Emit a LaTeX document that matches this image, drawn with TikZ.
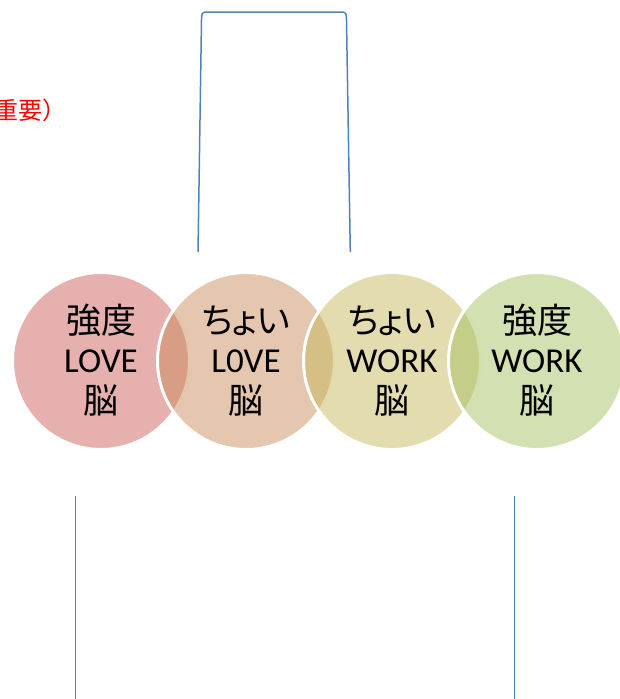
\documentclass[tikz,border=0pt]{standalone}
\usepackage{fontspec}
\setmainfont{Carlito}
\newfontfamily\jp[RawFeature=+palt]{Noto Sans CJK JP}
\newfontfamily\jpf{Noto Sans CJK JP}
\definecolor{cA}{RGB}{205,97,93}
\definecolor{cB}{RGB}{203,141,93}
\definecolor{cC}{RGB}{197,185,93}
\definecolor{cD}{RGB}{167,193,99}
\definecolor{lineblue}{RGB}{79,129,189}
\begin{document}
\begin{tikzpicture}[x=1pt,y=-1pt,
  bubble/.style={circle, minimum size=177pt, inner sep=0pt, draw=white, line width=3pt, fill opacity=0.5},
  lbl/.style={anchor=base, inner sep=0pt, text=black, font=\fontsize{35}{40}\selectfont},
  bline/.style={draw=lineblue, line width=1.5pt}]
\useasboundingbox (0,0) rectangle (619,699);
% circles
\node[bubble, fill=cA] (c1) at (101,361) {};
\node[bubble, fill=cB] (c2) at (246,361) {};
\node[bubble, fill=cC] (c3) at (392,361) {};
\node[bubble, fill=cD] (c4) at (537,361) {};
% texts
\node[lbl] (t1a) at (101,333) {\jp 強度};
\node[lbl] (t1b) at (101,372) {LOVE};
\node[lbl] (t1c) at (101,413) {\jp 脳};
\node[lbl] (t2a) at (246,333) {\jp ちょい};
\node[lbl] (t2b) at (246,372) {L0VE};
\node[lbl] (t2c) at (246,413) {\jp 脳};
\node[lbl] (t3a) at (392,333) {\jp ちょい};
\node[lbl] (t3b) at (392,372) {WORK};
\node[lbl] (t3c) at (392,413) {\jp 脳};
\node[lbl] (t4a) at (537,333) {\jp 強度};
\node[lbl] (t4b) at (537,372) {WORK};
\node[lbl] (t4c) at (537,413) {\jp 脳};
% red note (cut off at the left edge, as in the reference)
\node[anchor=west, inner sep=0pt, text=red, font=\jpf\fontsize{24}{28}\selectfont] (imp) at (-30,110) {（重要）};
% top bracket
\coordinate (bl) at (198,252);
\coordinate (blt) at (201.5,20);
\coordinate (tl) at (205,12);
\coordinate (tr) at (343,12);
\coordinate (brt) at (346.5,20);
\coordinate (br) at (350.3,252);
\draw[bline] (bl) -- (blt) .. controls (202,12.5) .. (tl) -- (tr) .. controls (346,12.5) .. (brt) -- (br);
% bottom lines
\coordinate (l1t) at (75.7,496);
\coordinate (l1b) at (75.7,699);
\coordinate (l2t) at (514.7,496);
\coordinate (l2b) at (514.7,699);
\draw[bline] (l1t) -- (l1b);
\draw[bline] (l2t) -- (l2b);
\end{tikzpicture}
\end{document}
